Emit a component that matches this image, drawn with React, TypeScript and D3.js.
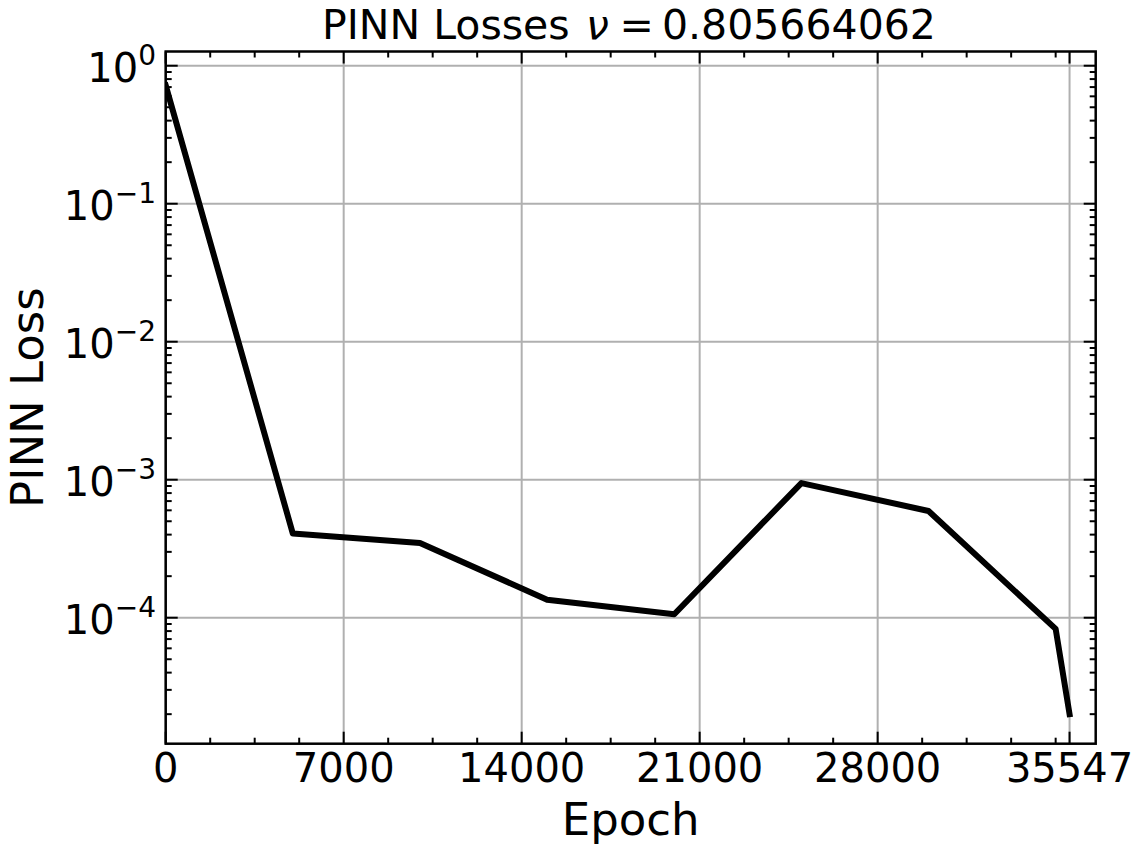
import React from "react";
import * as d3 from "d3";

// PINN training losses
const epochs = [0, 5000, 10000, 15000, 20000, 25000, 30000, 35000, 35547];
const losses = [0.72, 4.07e-4, 3.48e-4, 1.35e-4, 1.06e-4, 9.45e-4, 5.93e-4, 8.3e-5, 2.0e-5];

const xTickValues = [0, 7000, 14000, 21000, 28000, 35547];
const xMinorStep = 1750;
const yTickExponents = [0, -1, -2, -3, -4];

const title = "PINN Losses";
const nuValue = "0.805664062";
const xLabel = "Epoch";
const yLabel = "PINN Loss";

const W = 1142;
const H = 852;
const FONT = "'DejaVu Sans', sans-serif";

const App: React.FC = () => {
    const left = 165.7, right = 1095.7, top = 51.5, bottom = 743.7;

    const xScale = d3.scaleLinear().domain([0, 36575]).range([left, right]);
    const yScale = d3
        .scaleLog()
        .domain([Math.pow(10, -4.913), Math.pow(10, 0.103)])
        .range([bottom, top]);

    const xMinor = d3
        .range(0, xScale.domain()[1], xMinorStep)
        .filter((v) => !xTickValues.includes(v));

    const yMinor: number[] = [];
    for (let e = -5; e <= 0; e++) {
        for (let k = 2; k <= 9; k++) {
            const v = k * Math.pow(10, e);
            if (v >= yScale.domain()[0] && v <= yScale.domain()[1]) yMinor.push(v);
        }
    }

    const line = d3
        .line<number>()
        .x((_, i) => xScale(epochs[i]))
        .y((d) => yScale(d));

    const majorLen = 12;
    const minorLen = 6;
    const tickColor = "#000";

    return (
        <svg
            width={W}
            height={H}
            viewBox={`0 0 ${W} ${H}`}
            style={{ position: "absolute", left: 0, top: 0, background: "#fff" }}
            fontFamily={FONT}
        >
            <rect x={0} y={0} width={W} height={H} fill="#fff" />
            <defs>
                <clipPath id="plot-clip">
                    <rect x={left} y={top} width={right - left} height={bottom - top} />
                </clipPath>
            </defs>

            {/* grid */}
            <g stroke="#b0b0b0" strokeWidth={2}>
                {xTickValues.map((v) => (
                    <line key={`gx${v}`} x1={xScale(v)} x2={xScale(v)} y1={top} y2={bottom} />
                ))}
                {yTickExponents.map((e) => {
                    const y = yScale(Math.pow(10, e));
                    return <line key={`gy${e}`} x1={left} x2={right} y1={y} y2={y} />;
                })}
            </g>

            {/* loss curve */}
            <path
                d={line(losses) ?? ""}
                fill="none"
                stroke="#000"
                strokeWidth={6}
                strokeLinejoin="round"
                strokeLinecap="square"
                clipPath="url(#plot-clip)"
            />

            {/* ticks, all sides, pointing inwards */}
            <g stroke={tickColor} strokeWidth={2}>
                {xTickValues.map((v) => (
                    <g key={`tx${v}`}>
                        <line x1={xScale(v)} x2={xScale(v)} y1={bottom} y2={bottom - majorLen} />
                        <line x1={xScale(v)} x2={xScale(v)} y1={top} y2={top + majorLen} />
                    </g>
                ))}
                {xMinor.map((v) => (
                    <g key={`mx${v}`}>
                        <line x1={xScale(v)} x2={xScale(v)} y1={bottom} y2={bottom - minorLen} />
                        <line x1={xScale(v)} x2={xScale(v)} y1={top} y2={top + minorLen} />
                    </g>
                ))}
                {yTickExponents.map((e) => {
                    const y = yScale(Math.pow(10, e));
                    return (
                        <g key={`ty${e}`}>
                            <line x1={left} x2={left + majorLen} y1={y} y2={y} />
                            <line x1={right} x2={right - majorLen} y1={y} y2={y} />
                        </g>
                    );
                })}
                {yMinor.map((v) => {
                    const y = yScale(v);
                    return (
                        <g key={`my${v}`}>
                            <line x1={left} x2={left + minorLen} y1={y} y2={y} />
                            <line x1={right} x2={right - minorLen} y1={y} y2={y} />
                        </g>
                    );
                })}
            </g>

            {/* frame */}
            <rect
                x={left}
                y={top}
                width={right - left}
                height={bottom - top}
                fill="none"
                stroke="#000"
                strokeWidth={2.5}
            />

            {/* tick labels */}
            <g fontSize={40} fill="#000">
                {xTickValues.map((v) => (
                    <text key={`lx${v}`} x={xScale(v)} y={782} textAnchor="middle">
                        {String(v)}
                    </text>
                ))}
                {yTickExponents.map((e) => (
                    <text key={`ly${e}`} x={156} y={yScale(Math.pow(10, e)) + 16} textAnchor="end">
                        <tspan>10</tspan>
                        <tspan dy={-17} fontSize={28}>
                            {e < 0 ? `\u2212${-e}` : String(e)}
                        </tspan>
                    </text>
                ))}
            </g>

            {/* title, spaced like matplotlib mathtext */}
            <text y={39} fontSize={41} fill="#000">
                <tspan x={322}>{title}</tspan>
                <tspan x={586} fontStyle="italic">ν</tspan>
                <tspan x={619.5}>=</tspan>
                <tspan x={662}>{nuValue}</tspan>
            </text>

            {/* axis labels */}
            <text x={(left + right) / 2} y={835} fontSize={45} textAnchor="middle" fill="#000">
                {xLabel}
            </text>
            <text
                transform={`translate(43, ${(top + bottom) / 2}) rotate(-90)`}
                fontSize={45}
                textAnchor="middle"
                fill="#000"
            >
                {yLabel}
            </text>
        </svg>
    );
};

export default App;
